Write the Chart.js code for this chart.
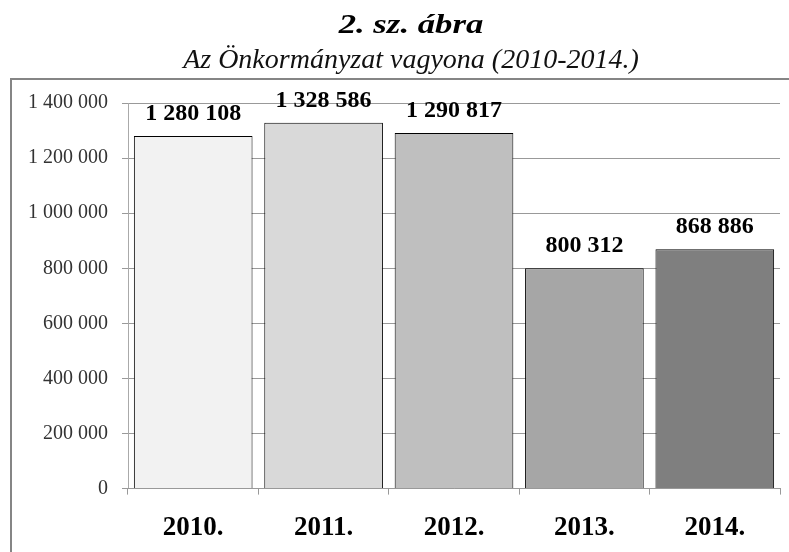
<!DOCTYPE html>
<html>
<head>
<meta charset="utf-8">
<script src="https://cdn.jsdelivr.net/npm/chart.js@4/dist/chart.umd.min.js"></script>
<style>
  html, body { margin: 0; padding: 0; background: #fff; }
  #wrap { width: 789px; height: 552px; position: relative; overflow: hidden; }
  .head {
    position: absolute; left: 0; width: 822px; text-align: center;
    font-family: "Liberation Serif", serif; font-style: italic; color: #000;
    white-space: nowrap; transform-origin: 50% 50%;
  }
  #title { top: 9.5px; font-size: 28px; line-height: 28px; font-weight: bold;
    transform: scaleX(1.24); }
  #subtitle { top: 44.5px; font-size: 28px; line-height: 28px; color: #111; }
</style>
</head>
<body>
<div id="wrap">
  <canvas id="myChart"></canvas>
  <div class="head" id="title">2. sz. ábra</div>
  <div class="head" id="subtitle">Az Önkormányzat vagyona (2010-2014.)</div>
</div>
<script>
const years = ["2010.", "2011.", "2012.", "2013.", "2014."];
const assets = [1280108, 1328586, 1290817, 800312, 868886];
const barColors = ["#f2f2f2", "#d9d9d9", "#bfbfbf", "#a6a6a6", "#7f7f7f"];
const yMin = 0, yMax = 1400000, yStep = 200000;

const fmt = (n) => String(n).replace(/\B(?=(\d{3})+(?!\d))/g, " ");

// keret a diagram körül (jobbra és lent kilóg)
const framePlugin = {
  id: "frame",
  beforeDraw(chart) {
    const c = chart.ctx;
    c.save();
    c.strokeStyle = "#858585";
    c.lineWidth = 2;
    c.strokeRect(11, 79, chart.width + 20, chart.height + 20);
    c.restore();
  },
};

// értékcímkék az oszlopok fölött
const valueLabels = {
  id: "valueLabels",
  afterDatasetsDraw(chart) {
    const c = chart.ctx;
    const meta = chart.getDatasetMeta(0);
    c.save();
    c.font = "bold 24px 'Liberation Serif'";
    c.fillStyle = "#000";
    c.textAlign = "center";
    c.textBaseline = "alphabetic";
    meta.data.forEach((bar, i) => {
      c.fillText(fmt(chart.data.datasets[0].data[i]), bar.x, bar.y - 16);
    });
    c.restore();
  },
};

document.addEventListener("DOMContentLoaded", () => {
  const ctx = document.getElementById("myChart").getContext("2d");

  new Chart(ctx, {
    type: "bar",
    data: {
      labels: years,
      datasets: [
        {
          data: assets,
          backgroundColor: barColors,
          borderColor: "#000",
          borderWidth: 1,
          categoryPercentage: 1,
          barPercentage: 0.91,
        },
      ],
    },
    options: {
      responsive: true,
      maintainAspectRatio: false,
      animation: false,
      layout: {
        padding: { left: 14, right: 9, top: 103, bottom: -9 },
      },
      scales: {
        y: {
          min: yMin,
          max: yMax,
          ticks: {
            stepSize: yStep,
            padding: 14,
            color: "#333",
            font: { family: "'Liberation Serif'", size: 20 },
            callback: (v) => fmt(v),
          },
          grid: { color: "#999", tickLength: 6, tickColor: "#999" },
          border: { color: "#aaa" },
        },
        x: {
          ticks: {
            padding: 17,
            color: "#000",
            font: { family: "'Liberation Serif'", size: 27, weight: "bold" },
          },
          grid: { drawOnChartArea: false, tickLength: 6, color: "#999" },
          border: { color: "#999" },
        },
      },
      plugins: {
        legend: { display: false },
        tooltip: { enabled: false },
      },
    },
    plugins: [framePlugin, valueLabels],
  });
});
</script>
</body>
</html>
